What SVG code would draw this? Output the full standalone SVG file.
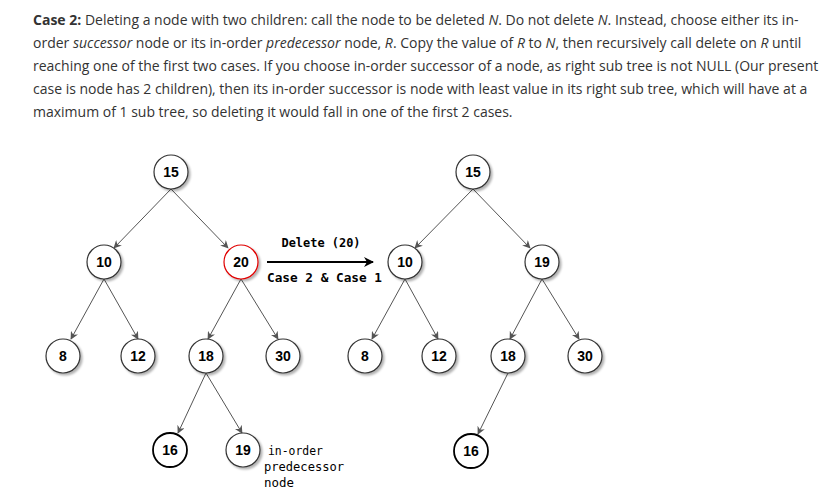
<svg xmlns="http://www.w3.org/2000/svg" width="834" height="501" viewBox="0 0 834 501">
<defs>
<style>
.p{font-family:"Open Sans","Noto Sans",sans-serif;font-size:14px;fill:#333}
.b{font-weight:bold}
.i{font-style:italic}
.n circle{fill:#fff;stroke:#333;stroke-width:1.2;filter:url(#sh)}
.n text{font-family:"Liberation Sans",Arial,sans-serif;font-weight:bold;font-size:14px;fill:#000;text-anchor:middle}
.n.red circle{stroke:#e00000}
.n.thick circle{stroke:#000;stroke-width:1.8;filter:none}
.e line{stroke:#555;stroke-width:1;marker-end:url(#ah)}
.c{font-family:"DejaVu Sans Mono","Liberation Mono",monospace;font-weight:bold;font-size:13px;fill:#000}
.lbl{font-family:"DejaVu Sans Mono","Liberation Mono",monospace;font-size:13px;fill:#000}
</style>
<filter id="sh" x="-30%" y="-30%" width="170%" height="170%">
<feDropShadow dx="2" dy="2" stdDeviation="1.2" flood-color="#000" flood-opacity="0.3"/>
</filter>
<marker id="ah" viewBox="0 0 10 10" refX="9" refY="5" markerWidth="8" markerHeight="8" markerUnits="userSpaceOnUse" orient="auto">
<path d="M0,0 L10,5 L0,10 L3,5 Z" fill="#555"/>
</marker>
<marker id="ahb" viewBox="0 0 10 10" refX="9" refY="5" markerWidth="10" markerHeight="10" markerUnits="userSpaceOnUse" orient="auto">
<path d="M0,0 L10,5 L0,10 L3,5 Z" fill="#000"/>
</marker>
</defs>
<rect width="834" height="501" fill="#fff"/>
<g id="paragraph" class="p">
<text x="33" y="25"><tspan class="b">Case 2:</tspan> Deleting a node with two children: call the node to be deleted <tspan class="i">N</tspan>. Do not delete <tspan class="i">N</tspan>. Instead, choose either its in-</text>
<text x="33" y="48">order <tspan class="i">successor</tspan> node or its in-order <tspan class="i">predecessor</tspan> node, <tspan class="i">R</tspan>. Copy the value of <tspan class="i">R</tspan> to <tspan class="i">N</tspan>, then recursively call delete on <tspan class="i">R</tspan> until</text>
<text x="33" y="71">reaching one of the first two cases. If you choose in-order successor of a node, as right sub tree is not NULL (Our present</text>
<text x="33" y="94">case is node has 2 children), then its in-order successor is node with least value in its right sub tree, which will have at a</text>
<text x="33" y="116.5">maximum of 1 sub tree, so deleting it would fall in one of the first 2 cases.</text>
</g>
<g id="connectors" class="e">
<line x1="171" y1="189" x2="114" y2="248"/>
<line x1="171" y1="189" x2="228" y2="248"/>
<line x1="104" y1="279" x2="71" y2="339"/>
<line x1="104" y1="279" x2="138" y2="339"/>
<line x1="241" y1="279" x2="208" y2="339"/>
<line x1="241" y1="279" x2="278" y2="339"/>
<line x1="206" y1="373" x2="178" y2="433"/>
<line x1="206" y1="373" x2="242" y2="433"/>
<line x1="473" y1="189" x2="415" y2="248"/>
<line x1="473" y1="189" x2="530" y2="248"/>
<line x1="405" y1="279" x2="372" y2="339"/>
<line x1="405" y1="279" x2="438" y2="339"/>
<line x1="542" y1="279" x2="510" y2="339"/>
<line x1="542" y1="279" x2="579" y2="339"/>
<line x1="508" y1="373" x2="478" y2="434"/>
</g>
<g id="transition">
<line x1="267" y1="262" x2="373" y2="262" stroke="#000" stroke-width="2" marker-end="url(#ahb)"/>
<text class="c" x="321" y="247" text-anchor="middle" textLength="79" lengthAdjust="spacingAndGlyphs">Delete (20)</text>
<text class="c" x="267" y="282" textLength="115" lengthAdjust="spacingAndGlyphs">Case 2 &amp; Case 1</text>
</g>
<g id="L15" class="n"><circle cx="171" cy="172" r="17"/><text x="171" y="177">15</text></g>
<g id="L10" class="n"><circle cx="104" cy="262" r="17"/><text x="104" y="267">10</text></g>
<g id="L20" class="n red"><circle cx="241" cy="262" r="17"/><text x="241" y="267">20</text></g>
<g id="L8" class="n"><circle cx="63" cy="356" r="17"/><text x="63" y="361">8</text></g>
<g id="L12" class="n"><circle cx="138" cy="356" r="17"/><text x="138" y="361">12</text></g>
<g id="L18" class="n"><circle cx="206" cy="356" r="17"/><text x="206" y="361">18</text></g>
<g id="L30" class="n"><circle cx="283" cy="356" r="17"/><text x="283" y="361">30</text></g>
<g id="L16" class="n thick"><circle cx="170" cy="450" r="17"/><text x="170" y="455">16</text></g>
<g id="L19" class="n"><circle cx="243" cy="450" r="17"/><text x="243" y="455">19</text></g>
<g id="L19label"><text class="lbl" x="268" y="455" textLength="55" lengthAdjust="spacingAndGlyphs">in-order</text><text class="lbl" x="264" y="471" textLength="80" lengthAdjust="spacingAndGlyphs">predecessor</text><text class="lbl" x="264" y="487" textLength="30" lengthAdjust="spacingAndGlyphs">node</text></g>
<g id="R15" class="n"><circle cx="473" cy="172" r="17"/><text x="473" y="177">15</text></g>
<g id="R10" class="n"><circle cx="405" cy="262" r="17"/><text x="405" y="267">10</text></g>
<g id="R19" class="n"><circle cx="542" cy="262" r="17"/><text x="542" y="267">19</text></g>
<g id="R8" class="n"><circle cx="365" cy="356" r="17"/><text x="365" y="361">8</text></g>
<g id="R12" class="n"><circle cx="439" cy="356" r="17"/><text x="439" y="361">12</text></g>
<g id="R18" class="n"><circle cx="508" cy="356" r="17"/><text x="508" y="361">18</text></g>
<g id="R30" class="n"><circle cx="585" cy="356" r="17"/><text x="585" y="361">30</text></g>
<g id="R16" class="n thick"><circle cx="471" cy="451" r="17"/><text x="471" y="456">16</text></g>
</svg>
